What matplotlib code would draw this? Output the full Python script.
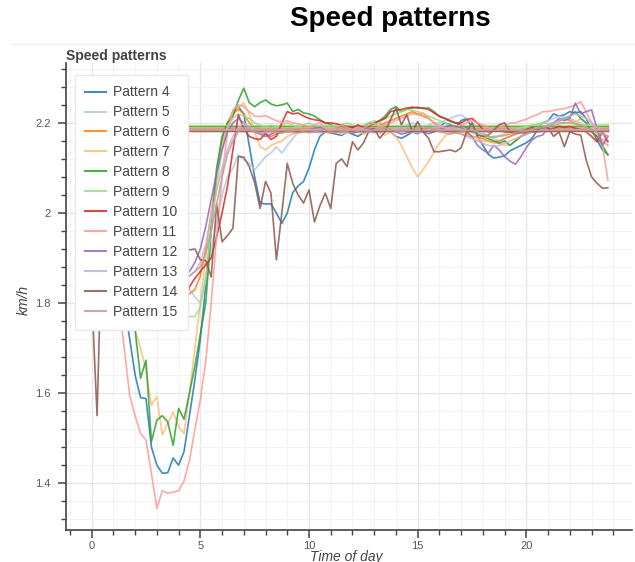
import numpy as np
import matplotlib
matplotlib.use("Agg")
import matplotlib.pyplot as plt
from matplotlib.ticker import MultipleLocator, FuncFormatter
from matplotlib.lines import Line2D

plt.rcParams['font.family'] = ['Liberation Sans', 'DejaVu Sans']

# time of day, 15 minute steps
times = np.arange(96) * 0.25

pattern_names = ['Pattern 4', 'Pattern 5', 'Pattern 6', 'Pattern 7', 'Pattern 8', 'Pattern 9',
                 'Pattern 10', 'Pattern 11', 'Pattern 12', 'Pattern 13', 'Pattern 14', 'Pattern 15']

colors = ['#1f77b4', '#aec7e8', '#ff7f0e', '#ffbb78', '#2ca02c', '#98df8a',
          '#d62728', '#ff9896', '#9467bd', '#c5b0d5', '#8c564b', '#c49c94']

# flat reference level drawn for each pattern
levels = [2.186, 2.190, 2.188, 2.190, 2.193, 2.195, 2.184, 2.183, 2.185, 2.187, 2.182, 2.184]

p4 = [2.0, 1.98, 1.96, 1.93, 1.9, 1.86, 1.8, 1.72,
      1.64, 1.59, 1.588, 1.48, 1.44, 1.422, 1.423, 1.456,
      1.44, 1.47, 1.55, 1.63, 1.72, 1.84, 1.97, 2.08,
      2.16, 2.2, 2.225, 2.236, 2.22, 2.15, 2.08, 2.022,
      2.02, 2.02, 2.0, 1.977, 2.0, 2.045, 2.06, 2.07,
      2.1, 2.14, 2.17, 2.18, 2.178, 2.175, 2.172, 2.18,
      2.175, 2.17, 2.178, 2.185, 2.18, 2.182, 2.186, 2.18,
      2.17, 2.166, 2.172, 2.18, 2.176, 2.185, 2.19, 2.188,
      2.192, 2.2, 2.196, 2.19, 2.205, 2.21, 2.19, 2.17,
      2.15, 2.13, 2.122, 2.124, 2.127, 2.138, 2.144, 2.15,
      2.156, 2.165, 2.184, 2.2, 2.205, 2.22, 2.215, 2.218,
      2.225, 2.222, 2.225, 2.21, 2.184, 2.162, 2.14, 2.13]

p5 = [2.0, 1.98, 1.96, 1.94, 1.92, 1.9, 1.89, 1.88,
      1.87, 1.87, 1.86, 1.86, 1.86, 1.855, 1.85, 1.85,
      1.85, 1.847, 1.83, 1.814, 1.8, 1.85, 1.92, 1.98,
      2.04, 2.08, 2.1, 2.13, 2.118, 2.11, 2.096, 2.11,
      2.125, 2.133, 2.147, 2.133, 2.15, 2.165, 2.18, 2.185,
      2.19, 2.185, 2.19, 2.188, 2.19, 2.185, 2.18, 2.185,
      2.19, 2.185, 2.18, 2.19, 2.195, 2.2, 2.195, 2.19,
      2.185, 2.19, 2.195, 2.2, 2.195, 2.19, 2.195, 2.2,
      2.2, 2.205, 2.21, 2.215, 2.218, 2.21, 2.2, 2.19,
      2.18, 2.17, 2.165, 2.16, 2.165, 2.17, 2.175, 2.18,
      2.185, 2.19, 2.195, 2.2, 2.205, 2.21, 2.215, 2.212,
      2.21, 2.205, 2.2, 2.19, 2.18, 2.17, 2.165, 2.16]

p6 = [2.05, 2.03, 2.0, 1.98, 1.96, 1.94, 1.92, 1.9,
      1.89, 1.88, 1.87, 1.86, 1.85, 1.85, 1.84, 1.84,
      1.83, 1.83, 1.82, 1.83, 1.86, 1.92, 2.0, 2.08,
      2.15, 2.2, 2.22, 2.23, 2.22, 2.2, 2.19, 2.18,
      2.175, 2.17, 2.175, 2.18, 2.185, 2.18, 2.178, 2.18,
      2.182, 2.18, 2.185, 2.18, 2.178, 2.18, 2.183, 2.18,
      2.178, 2.18, 2.182, 2.185, 2.19, 2.195, 2.2, 2.205,
      2.21, 2.215, 2.22, 2.225, 2.22, 2.215, 2.21, 2.2,
      2.19, 2.185, 2.18, 2.178, 2.175, 2.172, 2.17, 2.168,
      2.165, 2.16, 2.158, 2.16, 2.165, 2.17, 2.175, 2.18,
      2.183, 2.185, 2.188, 2.19, 2.195, 2.2, 2.205, 2.21,
      2.205, 2.2, 2.195, 2.19, 2.18, 2.17, 2.16, 2.15]

p7 = [2.0, 1.98, 1.96, 1.93, 1.9, 1.87, 1.83, 1.79,
      1.74, 1.7, 1.65, 1.573, 1.592, 1.507, 1.533, 1.558,
      1.525, 1.51, 1.6, 1.7, 1.8, 1.9, 2.0, 2.08,
      2.15, 2.2, 2.225, 2.235, 2.244, 2.22, 2.18, 2.147,
      2.14, 2.15, 2.155, 2.16, 2.17, 2.175, 2.18, 2.185,
      2.18, 2.185, 2.19, 2.185, 2.18, 2.182, 2.175, 2.18,
      2.185, 2.18, 2.175, 2.18, 2.182, 2.178, 2.173, 2.18,
      2.17, 2.15, 2.125, 2.1, 2.08, 2.096, 2.115, 2.135,
      2.155, 2.17, 2.18, 2.185, 2.18, 2.175, 2.17, 2.165,
      2.16, 2.158, 2.155, 2.155, 2.15, 2.152, 2.16, 2.17,
      2.18, 2.19, 2.195, 2.2, 2.198, 2.2, 2.205, 2.21,
      2.21, 2.2, 2.21, 2.2, 2.19, 2.175, 2.16, 2.15]

p8 = [2.05, 2.02, 2.0, 1.97, 1.94, 1.9, 1.85, 1.8,
      1.74, 1.633, 1.673, 1.492, 1.54, 1.55, 1.536, 1.484,
      1.566, 1.542, 1.6, 1.66, 1.73, 1.8, 1.96, 2.1,
      2.17, 2.2, 2.215, 2.25, 2.277, 2.245, 2.236, 2.245,
      2.251, 2.242, 2.238, 2.24, 2.244, 2.225, 2.23, 2.222,
      2.22, 2.215, 2.207, 2.2, 2.196, 2.19, 2.193, 2.19,
      2.19, 2.195, 2.19, 2.2, 2.198, 2.205, 2.215, 2.23,
      2.236, 2.225, 2.23, 2.233, 2.235, 2.232, 2.233, 2.225,
      2.214, 2.21, 2.203, 2.2, 2.195, 2.19, 2.18, 2.175,
      2.17, 2.165, 2.16, 2.155, 2.16, 2.15, 2.16, 2.17,
      2.175, 2.18, 2.185, 2.188, 2.195, 2.2, 2.205, 2.21,
      2.215, 2.225, 2.21, 2.2, 2.18, 2.17, 2.15, 2.129]

p9 = [2.03, 2.0, 1.98, 1.95, 1.93, 1.9, 1.88, 1.86,
      1.84, 1.83, 1.82, 1.81, 1.8, 1.79, 1.785, 1.78,
      1.78, 1.775, 1.77, 1.77, 1.79, 1.86, 1.96, 2.06,
      2.14, 2.19, 2.21, 2.22, 2.215, 2.21, 2.2, 2.195,
      2.19, 2.195, 2.19, 2.195, 2.2, 2.195, 2.19, 2.195,
      2.2, 2.195, 2.19, 2.195, 2.19, 2.192, 2.195, 2.2,
      2.195, 2.19, 2.195, 2.2, 2.205, 2.2, 2.21, 2.215,
      2.22, 2.225, 2.23, 2.228, 2.225, 2.22, 2.215, 2.21,
      2.205, 2.2, 2.195, 2.19, 2.185, 2.18, 2.178, 2.175,
      2.17, 2.168, 2.17, 2.172, 2.175, 2.18, 2.185, 2.19,
      2.192, 2.195, 2.198, 2.2, 2.198, 2.2, 2.202, 2.2,
      2.2, 2.198, 2.195, 2.196, 2.195, 2.194, 2.195, 2.195]

p10 = [2.02, 2.0, 1.98, 1.96, 1.94, 1.92, 1.9, 1.88,
       1.86, 1.85, 1.84, 1.83, 1.82, 1.81, 1.8, 1.8,
       1.79, 1.805, 1.836, 1.855, 1.87, 1.885, 1.9, 1.947,
       2.0, 2.06, 2.14, 2.218, 2.188, 2.17, 2.165, 2.163,
       2.177, 2.163, 2.17, 2.2, 2.225, 2.22, 2.222, 2.215,
       2.21, 2.207, 2.205, 2.2, 2.2, 2.198, 2.195, 2.192,
       2.19, 2.195, 2.19, 2.192, 2.2, 2.205, 2.21, 2.225,
       2.228, 2.23, 2.233, 2.235, 2.233, 2.233, 2.23, 2.222,
       2.215, 2.21, 2.205, 2.2, 2.2, 2.207, 2.21, 2.2,
       2.185, 2.18, 2.185, 2.183, 2.18, 2.18, 2.178, 2.178,
       2.178, 2.18, 2.18, 2.182, 2.185, 2.188, 2.192, 2.19,
       2.192, 2.188, 2.185, 2.18, 2.17, 2.158, 2.18, 2.158]

p11 = [1.98, 1.95, 1.92, 1.89, 1.85, 1.8, 1.7, 1.595,
       1.55, 1.51, 1.496, 1.422, 1.344, 1.383, 1.378, 1.38,
       1.383, 1.405, 1.45, 1.52, 1.585, 1.67, 1.8, 1.95,
       2.08, 2.18, 2.229, 2.24, 2.236, 2.225, 2.215, 2.214,
       2.216, 2.21, 2.205, 2.2, 2.205, 2.2, 2.198, 2.195,
       2.19, 2.195, 2.2, 2.19, 2.185, 2.19, 2.195, 2.19,
       2.185, 2.19, 2.188, 2.195, 2.2, 2.19, 2.195, 2.2,
       2.205, 2.21, 2.215, 2.22, 2.218, 2.222, 2.21, 2.2,
       2.195, 2.19, 2.185, 2.19, 2.195, 2.2, 2.205, 2.2,
       2.195, 2.19, 2.185, 2.19, 2.195, 2.2, 2.2, 2.205,
       2.208, 2.214, 2.218, 2.225, 2.225, 2.228, 2.23, 2.232,
       2.235, 2.24, 2.247, 2.225, 2.2, 2.18, 2.15, 2.073]

p12 = [2.05, 2.03, 2.0, 1.98, 1.96, 1.94, 1.92, 1.9,
       1.9, 1.89, 1.88, 1.88, 1.87, 1.87, 1.86, 1.86,
       1.86, 1.86, 1.87, 1.89, 1.92, 1.97, 2.03, 2.09,
       2.14, 2.18, 2.2, 2.21, 2.2, 2.19, 2.18, 2.175,
       2.17, 2.175, 2.18, 2.178, 2.182, 2.185, 2.18, 2.183,
       2.185, 2.188, 2.19, 2.185, 2.18, 2.183, 2.185, 2.18,
       2.178, 2.18, 2.185, 2.188, 2.185, 2.18, 2.183, 2.186,
       2.18, 2.175, 2.178, 2.182, 2.185, 2.18, 2.176, 2.18,
       2.185, 2.19, 2.195, 2.192, 2.19, 2.18, 2.17, 2.15,
       2.14, 2.133, 2.15, 2.14, 2.125, 2.115, 2.108, 2.125,
       2.145, 2.162, 2.17, 2.173, 2.19, 2.2, 2.21, 2.205,
       2.21, 2.244, 2.22, 2.225, 2.229, 2.188, 2.15, 2.17]

p13 = [2.0, 1.98, 1.97, 1.95, 1.94, 1.93, 1.92, 1.91,
       1.9, 1.9, 1.89, 1.89, 1.88, 1.88, 1.87, 1.87,
       1.87, 1.86, 1.86, 1.87, 1.89, 1.93, 1.99, 2.05,
       2.1, 2.14, 2.17, 2.19, 2.2, 2.19, 2.185, 2.18,
       2.178, 2.18, 2.182, 2.185, 2.18, 2.178, 2.18, 2.183,
       2.185, 2.18, 2.178, 2.18, 2.182, 2.185, 2.18, 2.178,
       2.18, 2.183, 2.185, 2.18, 2.178, 2.18, 2.182, 2.185,
       2.188, 2.19, 2.185, 2.18, 2.178, 2.18, 2.185, 2.19,
       2.192, 2.19, 2.185, 2.18, 2.175, 2.17, 2.165, 2.16,
       2.155, 2.15, 2.148, 2.15, 2.155, 2.16, 2.165, 2.17,
       2.175, 2.18, 2.185, 2.19, 2.195, 2.2, 2.205, 2.21,
       2.215, 2.22, 2.215, 2.21, 2.2, 2.19, 2.18, 2.17]

p14 = [1.82, 1.55, 2.0, 1.97, 1.95, 1.96, 1.94, 1.95,
       1.93, 1.95, 1.94, 1.92, 1.93, 1.95, 1.94, 1.93,
       1.94, 1.93, 1.918, 1.92, 1.896, 1.894, 1.858, 2.02,
       1.936, 1.95, 1.966, 2.125, 2.124, 2.103, 2.067, 2.01,
       2.07, 2.044, 1.896, 2.0, 2.11, 2.066, 2.04, 2.022,
       2.051, 1.98, 2.016, 2.044, 2.01, 2.11, 2.12, 2.103,
       2.158, 2.14, 2.155, 2.181, 2.188, 2.166, 2.18, 2.207,
       2.233, 2.196, 2.218, 2.18, 2.203, 2.18, 2.166, 2.136,
       2.136, 2.138, 2.14, 2.136, 2.145, 2.18, 2.2, 2.173,
       2.17, 2.173, 2.184, 2.196, 2.2, 2.18, 2.177, 2.18,
       2.185, 2.19, 2.185, 2.19, 2.19, 2.17, 2.18, 2.147,
       2.181, 2.175, 2.173, 2.118, 2.08, 2.066, 2.055, 2.056]

p15 = [1.98, 1.96, 1.95, 1.94, 1.93, 1.92, 1.91, 1.9,
       1.89, 1.88, 1.88, 1.87, 1.87, 1.86, 1.86, 1.86,
       1.85, 1.85, 1.86, 1.87, 1.88, 1.91, 1.96, 2.02,
       2.08, 2.13, 2.16, 2.18, 2.19, 2.185, 2.18, 2.178,
       2.18, 2.182, 2.18, 2.178, 2.18, 2.182, 2.185, 2.18,
       2.178, 2.18, 2.183, 2.185, 2.18, 2.178, 2.18, 2.182,
       2.185, 2.18, 2.178, 2.18, 2.185, 2.19, 2.188, 2.185,
       2.182, 2.18, 2.183, 2.185, 2.19, 2.192, 2.19, 2.185,
       2.18, 2.178, 2.175, 2.178, 2.18, 2.183, 2.185, 2.18,
       2.175, 2.17, 2.168, 2.17, 2.172, 2.175, 2.178, 2.18,
       2.182, 2.185, 2.188, 2.19, 2.192, 2.195, 2.198, 2.2,
       2.2, 2.198, 2.195, 2.19, 2.185, 2.18, 2.175, 2.17]

speeds = [p4, p5, p6, p7, p8, p9, p10, p11, p12, p13, p14, p15]

W, H = 635, 562
fig = plt.figure(figsize=(W / 100, H / 100), dpi=100)
ax = fig.add_axes([66 / W, 32 / H, (632 - 66) / W, (530 - 63) / H])

for name, col, vals, lev in zip(pattern_names, colors, speeds, levels):
    ax.plot(times, vals, color=col, lw=1.2, alpha=0.85, label=name)
    ax.plot([times[0], times[-1]], [lev, lev], color=col, lw=1.0, alpha=0.85)

ax.set_xlim(-1.18, 24.86)
ax.set_ylim(1.296, 2.333)

ax.xaxis.set_major_locator(MultipleLocator(5))
ax.xaxis.set_minor_locator(MultipleLocator(1))
ax.yaxis.set_major_locator(MultipleLocator(0.2))
ax.yaxis.set_minor_locator(MultipleLocator(0.04))
fmt = FuncFormatter(lambda v, p: f'{v:g}')
ax.xaxis.set_major_formatter(fmt)
ax.yaxis.set_major_formatter(fmt)

ax.grid(which='major', color='#e6e6e6', lw=1.0)
ax.grid(which='minor', color='#f3f3f3', lw=0.8)
ax.set_axisbelow(True)

for s in ['top', 'right']:
    ax.spines[s].set_visible(False)
for s in ['left', 'bottom']:
    ax.spines[s].set_color('#444444')
    ax.spines[s].set_linewidth(1.2)

ax.tick_params(which='major', direction='out', length=6, width=1.1, color='#444444',
               labelsize=8, labelcolor='#555555')
ax.tick_params(axis='x', which='major', pad=2)
ax.tick_params(axis='y', which='major', pad=5)
ax.tick_params(which='minor', direction='out', length=3.5, width=1.0, color='#444444')

ax.set_xlabel('Time of day', fontsize=10, style='italic', color='#444444', va='top')
ax.xaxis.set_label_coords((346 - 66) / 566, -(550 - 530) / 467)
ax.set_ylabel('km/h', fontsize=10, style='italic', color='#444444', va='center')
ax.yaxis.set_label_coords((24 - 66) / 566, (530 - 300) / 467)

leg = ax.legend(loc='upper left', bbox_to_anchor=((75 - 66) / 566, (530 - 75) / 467),
                borderaxespad=0, fontsize=10, labelspacing=0.43, handlelength=1.5,
                handletextpad=0.5, borderpad=0.75, frameon=True, fancybox=False,
                framealpha=1.0, edgecolor='#e8e8e8')
for t in leg.get_texts():
    t.set_color('#444444')
for l in leg.get_lines():
    l.set_linewidth(1.5)

fig.text(390 / W, 1 - 19 / H, 'Speed patterns', ha='center', va='center',
         fontsize=20, weight='bold', color='black')
fig.text(66 / W, 1 - 56 / H, 'Speed patterns', ha='left', va='center',
         fontsize=10, weight='bold', color='#444444')
fig.add_artist(Line2D([12 / W, 1], [1 - 44 / H, 1 - 44 / H], color='#eeeeee', lw=1))

fig.savefig('out.png', dpi=100)
